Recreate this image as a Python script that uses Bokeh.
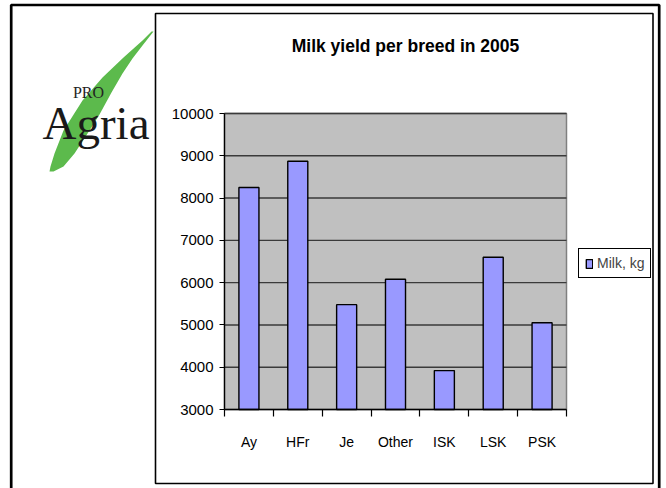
from bokeh.plotting import figure
from bokeh.models import (Range1d, FixedTicker, Label, BoxAnnotation,
                          PolyAnnotation, Legend, LegendItem, ColumnDataSource, LinearAxis)
from bokeh.embed import file_html
from bokeh.resources import INLINE
import numpy as np

# ---- data ----
breeds = ["Ay", "HFr", "Je", "Other", "ISK", "LSK", "PSK"]
milk_kg = [8250, 8870, 5480, 6080, 3920, 6600, 5050]
y_ticks = [3000, 4000, 5000, 6000, 7000, 8000, 9000, 10000]
title_text = "Milk yield per breed in 2005"
series_name = "Milk, kg"

SANS = "Liberation Sans"
SERIF = "Liberation Serif"

# ---- canvas geometry (pixels on the canvas) ----
W, H = 666, 488
PL, PR, PT, PB = 224, 566, 113, 409          # plot-area edges on the canvas
n = len(breeds)
y0, y1 = y_ticks[0], y_ticks[-1]
xs = (PR - PL) / n
ys = (PB - PT) / (y1 - y0)
x_range = Range1d(-PL / xs, n + (W - PR) / xs)
y_range = Range1d(y0 - (H - PB) / ys, y1 + PT / ys)

p = figure(width=W, height=H, output_backend="svg", toolbar_location=None,
           x_range=x_range, y_range=y_range,
           x_axis_location=None, y_axis_location=None,
           min_border=0)
p.background_fill_color = "white"
p.border_fill_color = "white"
p.outline_line_color = None
p.xgrid.visible = False
p.ygrid.visible = False

# plot area background
p.add_layout(BoxAnnotation(left=0, right=n, bottom=y0, top=y1, level="underlay",
                           fill_color="#C0C0C0", fill_alpha=1,
                           line_color="#808080", line_alpha=1, line_width=1.5))
# horizontal grid lines
p.segment(x0=0, x1=n, y0=y_ticks[1:], y1=y_ticks[1:], line_color="#3a3a3a", line_width=1.4)

xpos = np.arange(n) + 0.5
src = ColumnDataSource(dict(x=xpos, top=milk_kg, breed=breeds))
bars = p.vbar(x="x", top="top", bottom=y0, width=0.41, source=src,
              fill_color="#9999FF", line_color="black", line_width=1.4)

# y axis
yax = LinearAxis(fixed_location=0, bounds=(y0, y1),
                 ticker=FixedTicker(ticks=y_ticks, minor_ticks=[]))
yax.axis_line_color = "black"
yax.axis_line_width = 1.3
yax.major_tick_out = 5
yax.major_tick_in = 0
yax.major_tick_line_width = 1.2
yax.minor_tick_line_color = None
yax.major_label_standoff = 6
yax.major_label_text_font = SANS
yax.major_label_text_font_size = "15px"
yax.major_label_text_color = "black"
p.add_layout(yax, "left")

# x axis: labels at centres, tick marks at category boundaries
xax = LinearAxis(fixed_location=y0, bounds=(0, n),
                 ticker=FixedTicker(ticks=list(xpos), minor_ticks=list(range(n + 1))))
xax.major_label_overrides = {float(x): b for x, b in zip(xpos, breeds)}
xax.major_tick_line_color = None
xax.minor_tick_out = 7
xax.minor_tick_in = 0
xax.minor_tick_line_color = "black"
xax.minor_tick_line_width = 1.2
xax.axis_line_color = "black"
xax.axis_line_width = 1.3
xax.major_label_standoff = 17
xax.major_label_text_font = SANS
xax.major_label_text_font_size = "14px"
xax.major_label_text_color = "black"
p.add_layout(xax, "below")

# legend
legend = Legend(items=[LegendItem(label=series_name, renderers=[bars])],
                location=(578, H - 278), orientation="vertical")
legend.border_line_color = "black"
legend.border_line_alpha = 1
legend.border_line_width = 1
legend.background_fill_color = "white"
legend.background_fill_alpha = 1
legend.label_text_font = SANS
legend.label_text_font_size = "14px"
legend.glyph_width = 8
legend.glyph_height = 11
legend.label_standoff = 4
legend.padding = 6
legend.spacing = 0
legend.margin = 0
p.add_layout(legend, "center")

# title
p.add_layout(Label(x=405, y=45, x_units="canvas", y_units="canvas", text=title_text,
                   text_align="center", text_baseline="middle", text_font=SANS,
                   text_font_size="17.5px", text_font_style="bold", text_color="black"))

# boxes (page frame and chart frame)
p.add_layout(BoxAnnotation(left=10.7, right=658.7, top=4.5, bottom=H + 20,
                           left_units="canvas", right_units="canvas",
                           top_units="canvas", bottom_units="canvas",
                           fill_color=None, line_color="black", line_alpha=1, line_width=2.7))
p.add_layout(BoxAnnotation(left=155, right=652.5, top=13, bottom=483,
                           left_units="canvas", right_units="canvas",
                           top_units="canvas", bottom_units="canvas",
                           fill_color=None, line_color="black", line_alpha=1, line_width=1.6))

# logo: green swoosh + "PRO Agria"
sw_x = [151, 142, 123, 102, 82, 63, 54, 50, 49, 53, 63, 74, 89, 99, 111, 122, 132, 142, 153]
sw_y = [31, 40, 57, 77, 100, 130, 153, 166, 171, 171, 166, 153, 130, 114, 92, 73, 58, 45, 31]
p.add_layout(PolyAnnotation(xs=sw_x, ys=sw_y, xs_units="canvas", ys_units="canvas",
                            fill_color="#5CBA4C", fill_alpha=1, line_color=None))
p.add_layout(Label(x=88, y=92, x_units="canvas", y_units="canvas", text="PRO",
                   text_align="center", text_baseline="alphabetic", text_font=SERIF,
                   text_font_size="16px", text_color="#222222"))
p.add_layout(Label(x=42, y=122, x_units="canvas", y_units="canvas", text="Agria",
                   text_align="left", text_baseline="alphabetic", text_font=SERIF,
                   text_font_size="47px", text_color="#1a1a1a"))

open("out.html", "w").write(file_html(p, INLINE))
